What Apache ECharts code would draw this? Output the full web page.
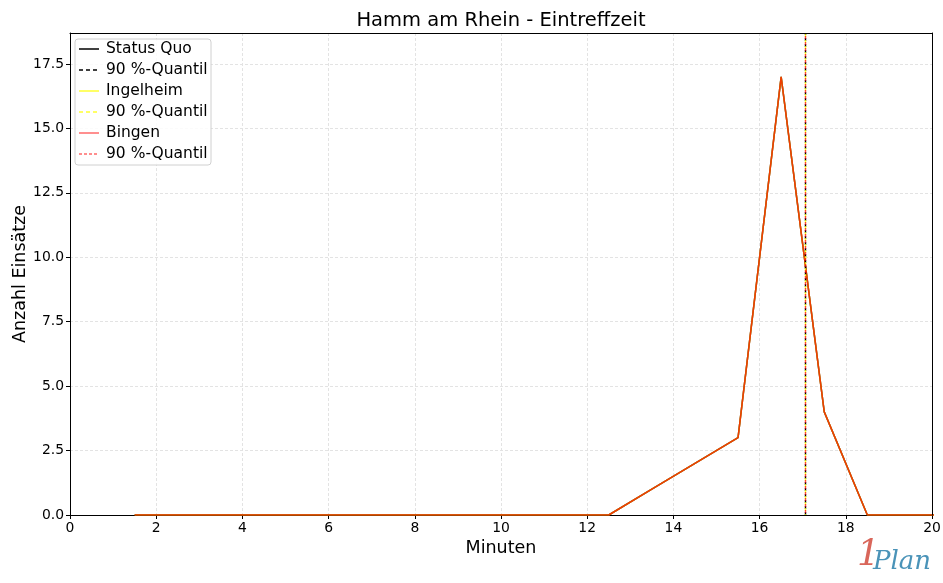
<!DOCTYPE html>
<html><head><meta charset="utf-8">
<script src="https://cdn.jsdelivr.net/npm/echarts@6/dist/echarts.min.js"></script>
<style>html,body{margin:0;padding:0;background:#fff}#c{width:943px;height:583px}</style>
</head><body><div id="c"></div>
<script>
const minutes = [1.5,2.5,3.5,4.5,5.5,6.5,7.5,8.5,9.5,10.5,11.5,12.5,13.5,14.5,15.5,16.5,17.5,18.5,19.5,20.5];
const statusQuo = [0,0,0,0,0,0,0,0,0,0,0,0,1,2,3,17,4,0,0,0];
const ingelheim = [0,0,0,0,0,0,0,0,0,0,0,0,1,2,3,17,4,0,0,0];
const bingen    = [0,0,0,0,0,0,0,0,0,0,0,0,1,2,3,17,4,0,0,0];
const quantiles = {statusQuo:17.05, ingelheim:17.05, bingen:17.05};
const legendNames = ['Status Quo','90 %-Quantil','Ingelheim','90 %-Quantil','Bingen','90 %-Quantil'];
const xTicks = [0,2,4,6,8,10,12,14,16,18,20];
const yTicks = [0,2.5,5,7.5,10,12.5,15,17.5];

const F = 'DejaVu Sans';
const pairs = a => minutes.map((m,i)=>[m,a[i]]);
function mk(name, data, color, op, q, off){
  return {name, type:'line', data:pairs(data), symbol:'none', clip:true, z:2,
    lineStyle:{color, width:1.5, opacity:op}, animation:false,
    markLine:{silent:true, symbol:'none', label:{show:false}, animation:false,
      lineStyle:{color, type:[3,3], dashOffset:off, width:1.4, opacity:op}, data:[{xAxis:q}]}};
}
const legendStyles = [
  {c:'#000', dash:null},{c:'#000', dash:[4,3]},
  {c:'#ffff33', dash:null},{c:'#ffff33', dash:[4,3]},
  {c:'#ff6a6a', dash:null},{c:'#ff6a6a', dash:[3,2]}];
const g = [{type:'rect', shape:{x:75,y:39,width:136,height:126,r:3}, style:{fill:'rgba(255,255,255,0.85)', stroke:'#d0d0d0', lineWidth:1}, z:10}];
legendNames.forEach((n,i)=>{
  const y = 49 + i*21;
  g.push({type:'line', shape:{x1:79,y1:y,x2:99,y2:y}, style:{stroke:legendStyles[i].c, lineWidth:1.5, lineDash:legendStyles[i].dash}, z:11});
  g.push({type:'text', x:106, y:y, style:{text:n, font:'15.5px '+F, fill:'#000', textVerticalAlign:'middle'}, z:11});
});
g.push({type:'text', x:501, y:21, style:{text:'Hamm am Rhein - Eintreffzeit', font:'19.5px '+F, fill:'#000', textAlign:'center', textVerticalAlign:'middle'}, z:11});
g.push({type:'text', x:20, y:274, rotation:Math.PI/2, style:{text:'Anzahl Einsätze', font:'17.5px '+F, fill:'#000', textAlign:'center', textVerticalAlign:'middle'}, z:11});
g.push({type:'text', x:857, y:556, style:{text:'1', font:'italic 36px "DejaVu Serif"', fill:'#d9665a', textVerticalAlign:'middle'}, z:11});
g.push({type:'text', x:873, y:562, style:{text:'Plan', font:'italic 26px "DejaVu Serif"', fill:'#4a93b8', textVerticalAlign:'middle'}, z:11});

const axLine = {show:true, onZero:false, lineStyle:{color:'#000', width:1}};
const chart = echarts.init(document.getElementById('c'));
chart.setOption({
  animation:false,
  grid:{left:70, right:11, top:33, bottom:68, containLabel:false, outerBoundsMode:'none'},
  xAxis:[{type:'value', min:0, max:20, interval:2, name:'Minuten', nameLocation:'middle', nameGap:24,
    nameTextStyle:{fontFamily:F, fontSize:17.5, color:'#000'},
    axisLine:axLine, axisTick:{show:true, length:4, lineStyle:{color:'#000'}},
    axisLabel:{fontFamily:F, fontSize:13.9, color:'#000', margin:6, formatter:v=>xTicks.includes(v)?String(v):''},
    splitLine:{show:true, lineStyle:{color:'#e3e3e3', type:[3,2]}}},
    {type:'value', position:'top', z:10, min:0, max:20, axisLine:axLine, axisTick:{show:false}, axisLabel:{show:false}, splitLine:{show:false}}],
  yAxis:[{type:'value', min:0, max:18.7, interval:2.5,
    axisLine:axLine, axisTick:{show:true, length:4, lineStyle:{color:'#000'}, customValues:yTicks},
    axisLabel:{fontFamily:F, fontSize:13.9, color:'#000', margin:6, showMaxLabel:false, formatter:v=>yTicks.includes(v)?v.toFixed(1):''},
    splitLine:{show:true, lineStyle:{color:'#e3e3e3', type:[3,2]}}},
    {type:'value', position:'right', z:10, min:0, max:18.7, axisLine:axLine, axisTick:{show:false}, axisLabel:{show:false}, splitLine:{show:false}}],
  series:[
    mk('Status Quo', statusQuo, '#000000', 1, quantiles.statusQuo, 0),
    mk('Ingelheim', ingelheim, '#ffff00', 0.8, quantiles.ingelheim, 2),
    mk('Bingen', bingen, '#ff0000', 0.7, quantiles.bingen, 4)
  ],
  graphic:g
});
</script></body></html>
